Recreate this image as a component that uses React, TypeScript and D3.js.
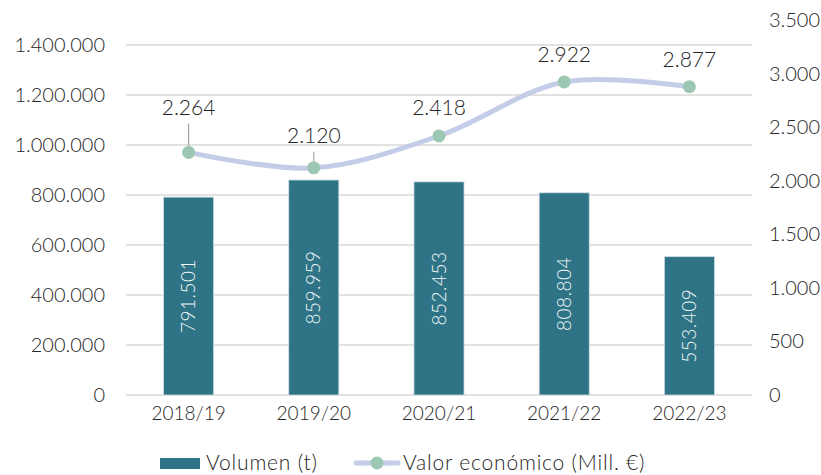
import * as d3 from 'd3';

// campañas
const seasons = ['2018/19', '2019/20', '2020/21', '2021/22', '2022/23'];
// Volumen (t)
const volume = [791501, 859959, 852453, 808804, 553409];
// Valor económico (Mill. €)
const value = [2264, 2120, 2418, 2922, 2877];

const leftTicks = [0, 200000, 400000, 600000, 800000, 1000000, 1200000, 1400000];
const rightTicks = [0, 500, 1000, 1500, 2000, 2500, 3000, 3500];

// how far each value label sits above its marker (px); first two were moved by hand
const labelLift = [45, 32, 28, 27, 27];

const W = 821;
const H = 475;
const FONT = 'Lato, "Open Sans", sans-serif';
const TEXT = '#262626';
const BAR = '#2e7486';
const LINE = '#c4cde7';
const MARK = '#9cc7b3';
const GRID = '#d9d9d9';

const fmt = (v: number) => d3.format(',')(v).replace(/,/g, '.');

export default function App() {
  const plotLeft = 126;
  const plotRight = 752;
  const plotBottom = 395;

  const x = d3.scaleBand<string>().domain(seasons).range([plotLeft, plotRight]).paddingInner(0.6).paddingOuter(0.3);
  const yL = d3.scaleLinear().domain([0, 1400000]).range([plotBottom, 45]);
  const yR = d3.scaleLinear().domain([0, 3500]).range([plotBottom, 20]);

  const cx = (s: string) => (x(s) ?? 0) + x.bandwidth() / 2;

  const line = d3
    .line<number>()
    .x((_, i) => cx(seasons[i]))
    .y((d) => yR(d))
    .curve(d3.curveCatmullRom.alpha(0.5));

  return (
    <svg width={W} height={H} style={{ position: 'absolute', left: 0, top: 0, background: '#fff' }} fontFamily={FONT} fontWeight={300}>
      {/* grid + left axis */}
      {leftTicks.map((t) => (
        <g key={t}>
          <line x1={plotLeft} x2={plotRight} y1={yL(t)} y2={yL(t)} stroke={GRID} strokeWidth={1.5} />
          <text x={105} y={yL(t)} dy="0.35em" textAnchor="end" fontSize={20} fill={TEXT}>
            {fmt(t)}
          </text>
        </g>
      ))}

      {/* right axis */}
      {rightTicks.map((t) => (
        <text key={t} x={769} y={yR(t)} dy="0.35em" fontSize={20} fill={TEXT}>
          {fmt(t)}
        </text>
      ))}

      {/* bars */}
      {seasons.map((s, i) => {
        const top = yL(volume[i]);
        const mid = (top + plotBottom) / 2;
        return (
          <g key={s}>
            <rect x={x(s)} y={top} width={x.bandwidth()} height={plotBottom - top} fill={BAR} stroke="#cfdde2" strokeWidth={0.8} />
            <text
              transform={`translate(${cx(s)},${mid}) rotate(-90)`}
              textAnchor="middle"
              dy="0.35em"
              fontSize={19}
              letterSpacing={0.5}
              fill="#eef4f5"
            >
              {fmt(volume[i])}
            </text>
          </g>
        );
      })}

      {/* x labels */}
      {seasons.map((s) => (
        <text key={s} x={cx(s)} y={420} textAnchor="middle" fontSize={19} fill={TEXT}>
          {s}
        </text>
      ))}

      {/* leader lines for moved labels */}
      {value.map((v, i) =>
        labelLift[i] > 30 ? (
          <line key={i} x1={cx(seasons[i])} x2={cx(seasons[i])} y1={yR(v) - labelLift[i] + 16} y2={yR(v) - 3} stroke="#a6a6a6" strokeWidth={1.2} />
        ) : null
      )}

      {/* line */}
      <path d={line(value) ?? ''} fill="none" stroke={LINE} strokeWidth={5} strokeLinecap="round" />
      {value.map((v, i) => (
        <circle key={i} cx={cx(seasons[i])} cy={yR(v)} r={6.5} fill={MARK} />
      ))}
      {value.map((v, i) => (
        <text key={i} x={cx(seasons[i])} y={yR(v) - labelLift[i]} dy="0.35em" textAnchor="middle" fontSize={21} fill={TEXT}>
          {fmt(v)}
        </text>
      ))}

      {/* legend */}
      <rect x={160} y={458} width={40} height={11} fill={BAR} />
      <text x={206} y={463} dy="0.35em" fontSize={21} letterSpacing={0.8} fill={TEXT}>
        Volumen (t)
      </text>
      <line x1={356} x2={398} y1={463} y2={463} stroke={LINE} strokeWidth={5} strokeLinecap="round" />
      <circle cx={377} cy={463} r={6.5} fill={MARK} />
      <text x={403} y={463} dy="0.35em" fontSize={21} letterSpacing={0.8} fill={TEXT}>
        Valor económico (Mill. €)
      </text>
    </svg>
  );
}
